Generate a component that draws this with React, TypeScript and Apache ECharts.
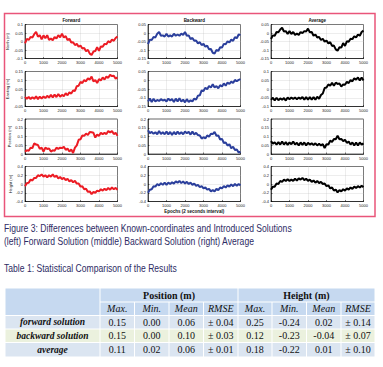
import React, { useEffect, useRef } from "react";
import * as echarts from "echarts";

// ---------- data ----------
const EPOCHS = [0, 100, 200, 300, 400, 500, 600, 700, 800, 900, 1000, 1100, 1200, 1300, 1400, 1500, 1600, 1700, 1800, 1900, 2000, 2100, 2200, 2300, 2400, 2500, 2600, 2700, 2800, 2900, 3000, 3100, 3200, 3300, 3400, 3500, 3600, 3700, 3800, 3900, 4000, 4100, 4200, 4300, 4400, 4500, 4600, 4700, 4800, 4900, 5000];

const FORWARD_NORTH = [-0.011, 0.016, 0.009, 0.027, 0.024, 0.043, 0.056, 0.029, 0.037, 0.013, 0.036, 0.019, 0.037, 0.009, 0.017, 0.008, 0.027, 0.018, 0.037, 0.024, 0.046, 0.023, 0.032, 0.008, 0.016, -0.006, -0.004, -0.021, -0.014, -0.031, -0.024, -0.041, -0.038, -0.057, -0.049, -0.071, -0.079, -0.059, -0.056, -0.034, -0.055, -0.029, -0.031, -0.014, -0.016, 0.002, -0.006, 0.012, 0.004, 0.021, 0.03];
const FORWARD_EAST = [0.005, -0.006, 0.004, -0.007, 0.003, -0.006, 0.008, -0.008, 0.006, -0.004, 0.007, -0.002, 0.011, 0.001, 0.016, 0.002, 0.018, 0.004, 0.021, 0.006, 0.016, 0.009, 0.026, 0.014, 0.031, 0.024, 0.041, 0.039, 0.066, 0.069, 0.091, 0.084, 0.101, 0.094, 0.111, 0.104, 0.121, 0.094, 0.101, 0.084, 0.106, 0.099, 0.116, 0.104, 0.121, 0.114, 0.131, 0.124, 0.126, 0.109, 0.116];
const FORWARD_POSITION = [0.014, 0.021, 0.019, 0.036, 0.034, 0.061, 0.054, 0.051, 0.029, 0.036, 0.014, 0.036, 0.029, 0.031, 0.014, 0.021, 0.019, 0.036, 0.029, 0.036, 0.034, 0.041, 0.024, 0.031, 0.014, 0.026, 0.006, 0.036, 0.049, 0.081, 0.084, 0.106, 0.104, 0.116, 0.109, 0.126, 0.124, 0.121, 0.094, 0.111, 0.104, 0.121, 0.114, 0.121, 0.114, 0.131, 0.124, 0.131, 0.114, 0.121, 0.104];
const FORWARD_HEIGHT = [-0.05, 0.02, 0.03, 0.1, 0.08, 0.14, 0.14, 0.2, 0.18, 0.22, 0.17, 0.2, 0.15, 0.2, 0.17, 0.22, 0.16, 0.19, 0.13, 0.16, 0.11, 0.14, 0.09, 0.12, 0.06, 0.09, 0.04, 0.07, 0.01, 0.01, -0.06, -0.05, -0.12, -0.11, -0.18, -0.17, -0.23, -0.18, -0.2, -0.15, -0.17, -0.12, -0.15, -0.11, -0.14, -0.09, -0.13, -0.08, -0.12, -0.09, -0.13];

const BACKWARD_NORTH = [-0.066, -0.039, -0.041, -0.024, -0.026, -0.004, 0.006, -0.016, -0.014, -0.021, -0.004, -0.021, -0.014, -0.021, -0.004, -0.016, -0.009, -0.016, -0.004, -0.011, 0.006, -0.016, -0.014, -0.036, -0.029, -0.046, -0.044, -0.061, -0.054, -0.071, -0.064, -0.081, -0.074, -0.096, -0.094, -0.116, -0.121, -0.099, -0.106, -0.084, -0.086, -0.064, -0.066, -0.049, -0.056, -0.039, -0.046, -0.024, -0.031, -0.009, -0.011];
const BACKWARD_EAST = [-0.121, -0.104, -0.124, -0.106, -0.121, -0.113, -0.118, -0.108, -0.116, -0.111, -0.121, -0.105, -0.116, -0.108, -0.124, -0.105, -0.121, -0.103, -0.121, -0.111, -0.126, -0.108, -0.124, -0.115, -0.121, -0.105, -0.111, -0.088, -0.086, -0.058, -0.061, -0.043, -0.051, -0.033, -0.041, -0.023, -0.041, -0.033, -0.046, -0.028, -0.036, -0.018, -0.031, -0.013, -0.021, -0.008, -0.016, 0.002, -0.006, 0.002, 0.006];
const BACKWARD_POSITION = [0.136, 0.119, 0.126, 0.116, 0.124, 0.113, 0.131, 0.114, 0.124, 0.113, 0.128, 0.112, 0.126, 0.109, 0.126, 0.112, 0.128, 0.114, 0.124, 0.113, 0.128, 0.119, 0.126, 0.111, 0.128, 0.112, 0.121, 0.108, 0.106, 0.088, 0.096, 0.089, 0.106, 0.099, 0.116, 0.114, 0.126, 0.104, 0.106, 0.083, 0.086, 0.063, 0.066, 0.048, 0.056, 0.033, 0.041, 0.023, 0.026, 0.008, 0.014];
const BACKWARD_HEIGHT = [-0.2, -0.13, -0.12, -0.05, -0.06, 0.0, -0.03, 0.02, -0.02, 0.03, -0.02, 0.03, 0.0, 0.04, 0.01, 0.06, 0.03, 0.07, 0.02, 0.06, 0.01, 0.05, 0.0, 0.03, -0.02, 0.01, -0.04, -0.02, -0.07, -0.05, -0.1, -0.08, -0.13, -0.11, -0.17, -0.14, -0.17, -0.11, -0.14, -0.08, -0.1, -0.05, -0.08, -0.03, -0.06, -0.01, -0.05, 0.0, -0.04, 0.0, -0.03];

const AVERAGE_NORTH = [-0.035, -0.014, -0.016, 0.006, 0.004, 0.021, 0.031, 0.009, 0.011, -0.006, 0.011, -0.006, 0.006, -0.011, -0.004, -0.011, 0.006, -0.001, 0.011, 0.009, 0.026, 0.004, 0.006, -0.016, -0.009, -0.026, -0.024, -0.041, -0.034, -0.051, -0.044, -0.061, -0.054, -0.076, -0.074, -0.096, -0.104, -0.084, -0.086, -0.059, -0.076, -0.049, -0.051, -0.034, -0.036, -0.019, -0.026, -0.009, -0.016, 0.006, 0.014];
const AVERAGE_EAST = [-0.062, -0.05, -0.066, -0.05, -0.064, -0.054, -0.061, -0.052, -0.066, -0.049, -0.058, -0.049, -0.056, -0.049, -0.058, -0.049, -0.056, -0.046, -0.061, -0.046, -0.061, -0.047, -0.061, -0.046, -0.061, -0.044, -0.056, -0.034, -0.026, 0.006, 0.009, 0.026, 0.019, 0.036, 0.019, 0.036, 0.029, 0.031, 0.014, 0.026, 0.024, 0.041, 0.034, 0.051, 0.044, 0.061, 0.054, 0.066, 0.049, 0.066, 0.049];
const AVERAGE_POSITION = [0.074, 0.059, 0.066, 0.054, 0.068, 0.054, 0.071, 0.054, 0.068, 0.052, 0.066, 0.056, 0.071, 0.054, 0.064, 0.049, 0.066, 0.052, 0.066, 0.049, 0.064, 0.054, 0.061, 0.052, 0.061, 0.049, 0.058, 0.049, 0.056, 0.034, 0.056, 0.054, 0.076, 0.069, 0.086, 0.084, 0.104, 0.084, 0.086, 0.074, 0.081, 0.064, 0.071, 0.054, 0.066, 0.049, 0.066, 0.049, 0.066, 0.054, 0.061];
const AVERAGE_HEIGHT = [-0.13, -0.06, -0.06, 0.01, 0.0, 0.07, 0.05, 0.1, 0.07, 0.11, 0.07, 0.1, 0.07, 0.12, 0.08, 0.13, 0.1, 0.14, 0.09, 0.12, 0.07, 0.1, 0.05, 0.08, 0.03, 0.07, 0.02, 0.05, 0.0, 0.01, -0.05, -0.03, -0.1, -0.08, -0.15, -0.13, -0.19, -0.14, -0.17, -0.12, -0.15, -0.1, -0.13, -0.08, -0.11, -0.06, -0.09, -0.05, -0.08, -0.04, -0.07];

const SOLUTIONS = ["Forward", "Backward", "Average"];
const COMPONENTS = ["North (m)", "Easting (m)", "Position (m)", "Height (m)"];
const X_TICKS = [0, 1000, 2000, 3000, 4000, 5000];

// y-axis [min, max, interval] per solution / component
const Y_SCALES = [
  [[-0.1, 0.1, 0.05], [-0.05, 0.15, 0.05], [0, 0.2, 0.05], [-0.4, 0.4, 0.2]],
  [[-0.15, 0.05, 0.05], [-0.15, 0.05, 0.05], [0, 0.2, 0.05], [-0.4, 0.4, 0.2]],
  [[-0.15, 0.05, 0.05], [-0.1, 0.1, 0.05], [0, 0.2, 0.05], [-0.4, 0.4, 0.2]],
];

const SERIES_DATA = [
  [FORWARD_NORTH, FORWARD_EAST, FORWARD_POSITION, FORWARD_HEIGHT],
  [BACKWARD_NORTH, BACKWARD_EAST, BACKWARD_POSITION, BACKWARD_HEIGHT],
  [AVERAGE_NORTH, AVERAGE_EAST, AVERAGE_POSITION, AVERAGE_HEIGHT],
];

// table
const TABLE_ROWS = ["forward solution", "backward solution", "average"];
const STAT_HEADERS = ["Max.", "Min.", "Mean", "RMSE"];
const POS_MAX = [0.15, 0.15, 0.11];
const POS_MIN = [0.0, 0.0, 0.02];
const POS_MEAN = [0.06, 0.1, 0.06];
const POS_RMSE = [0.04, 0.03, 0.01];
const HGT_MAX = [0.25, 0.12, 0.18];
const HGT_MIN = [-0.24, -0.23, -0.22];
const HGT_MEAN = [0.02, -0.04, 0.01];
const HGT_RMSE = [0.14, 0.07, 0.1];

// ---------- layout ----------
const COL_LEFT = [25, 148, 271];
const COL_W = 92.5;
const ROW_TOP = [24.5, 71.5, 119, 166.5];
const ROW_H = [34, 35, 35, 35];
const LINE_COLORS = ["#ec1c24", "#2b3f9c", "#000000"];

const fmt = (v: number) => String(parseFloat(v.toFixed(2)));

function buildOption() {
  const grid: any[] = [];
  const xAxis: any[] = [];
  const yAxis: any[] = [];
  const series: any[] = [];
  let idx = 0;
  for (let c = 0; c < 3; c++) {
    for (let r = 0; r < 4; r++) {
      grid.push({
        left: COL_LEFT[c],
        top: ROW_TOP[r],
        width: COL_W,
        height: ROW_H[r],
        show: true,
        borderColor: "#000",
        borderWidth: 0.6,
        backgroundColor: "#fff",
      });
      const isEpochAxis = c === 1 && r === 3;
      xAxis.push({
        type: "value",
        gridIndex: idx,
        min: 0,
        max: 5000,
        interval: 1000,
        axisLine: { show: true, onZero: false, lineStyle: { color: "#000", width: 0.6 } },
        axisTick: { show: true, inside: true, length: 1.5, lineStyle: { color: "#000", width: 0.5 } },
        axisLabel: { fontSize: 4, color: "#222", margin: 2, fontFamily: "Liberation Sans", showMinLabel: true, showMaxLabel: true, formatter: (v: number) => (X_TICKS.includes(v) ? String(v) : "") },
        splitLine: { show: true, lineStyle: { type: "dotted", color: "#b5b5b5", width: 0.5 } },
        name: isEpochAxis ? "Epochs (2 seconds interval)" : "",
        nameLocation: "middle",
        nameGap: 7,
        nameTextStyle: { fontSize: 4.5, fontWeight: "bold", color: "#111", fontFamily: "Liberation Sans" },
      });
      const [mn, mx, iv] = Y_SCALES[c][r];
      yAxis.push({
        type: "value",
        gridIndex: idx,
        min: mn,
        max: mx,
        interval: iv,
        axisLine: { show: true, onZero: false, lineStyle: { color: "#000", width: 0.6 } },
        axisTick: { show: true, inside: true, length: 1.5, lineStyle: { color: "#000", width: 0.5 } },
        axisLabel: { fontSize: 4, color: "#222", margin: 2, fontFamily: "Liberation Sans", formatter: (v: number) => fmt(v) },
        splitLine: { show: true, lineStyle: { type: "dotted", color: "#b5b5b5", width: 0.5 } },
        name: c === 0 ? COMPONENTS[r] : "",
        nameLocation: "middle",
        nameRotate: 90,
        nameGap: 10,
        nameTextStyle: { fontSize: 4, color: "#111", fontFamily: "Liberation Sans" },
      });
      const arr = SERIES_DATA[c][r];
      series.push({
        type: "line",
        xAxisIndex: idx,
        yAxisIndex: idx,
        data: EPOCHS.map((e, i) => [e, arr[i]]),
        showSymbol: false,
        symbol: "none",
        lineStyle: { color: LINE_COLORS[c], width: 2 },
        silent: true,
      });
      idx++;
    }
  }

  const graphic: any[] = [];
  // figure border
  graphic.push({
    type: "rect",
    shape: { x: 4.5, y: 13.5, width: 370.5, height: 203 },
    style: { fill: "none", stroke: "#e9557a", lineWidth: 1.5 },
    z: 100,
  });
  // column titles
  SOLUTIONS.forEach((s, c) => {
    graphic.push({
      type: "text",
      x: COL_LEFT[c] + COL_W / 2,
      y: 20,
      style: { text: s, fontSize: 4.5, fontWeight: "bold", fill: "#111", fontFamily: "Liberation Sans", align: "center", verticalAlign: "middle", textAlign: "center", textVerticalAlign: "middle" },
    });
  });
  // captions
  const capStyle = { fontSize: 10, fill: "#2d2b64", fontFamily: "Liberation Sans", align: "left", verticalAlign: "middle", textAlign: "left", textVerticalAlign: "middle" };
  graphic.push({ type: "text", x: 4, y: 228.5, scaleX: 0.86, style: { ...capStyle, text: "Figure 3: Differences between Known-coordinates and Introduced Solutions" } });
  graphic.push({ type: "text", x: 4, y: 242, scaleX: 0.86, style: { ...capStyle, text: "(left) Forward Solution (middle) Backward Solution (right) Average" } });
  graphic.push({ type: "text", x: 4, y: 269, scaleX: 0.86, style: { ...capStyle, text: "Table 1: Statistical Comparison of the Results" } });

  // table
  const colX = [5, 100, 134.5, 169, 203.5, 238, 272, 306.5, 341, 375];
  const rowY = [288, 302, 315.5, 329, 342.5, 357];
  const HEADER_BG = "#c6d9f0";
  const ROW_BG = ["#dbe5f1", "#ebf1de", "#dbe5f1"];
  const cell = (x0: number, x1: number, y0: number, y1: number, fill: string) => ({
    type: "rect",
    shape: { x: x0 + 0.5, y: y0 + 0.5, width: x1 - x0 - 1, height: y1 - y0 - 1 },
    style: { fill, stroke: "none" },
  });
  const txt = (x: number, y: number, text: string, extra: any) => ({
    type: "text",
    x,
    y,
    z: 10,
    style: { text, fontSize: 10, fill: "#111", fontFamily: "Liberation Serif", align: "center", verticalAlign: "middle", textAlign: "center", textVerticalAlign: "middle", ...extra },
  });
  graphic.push(cell(colX[0], colX[1], rowY[0], rowY[2], HEADER_BG));
  graphic.push(cell(colX[1], colX[5], rowY[0], rowY[1], HEADER_BG));
  graphic.push(cell(colX[5], colX[9], rowY[0], rowY[1], HEADER_BG));
  for (let k = 1; k < 9; k++) graphic.push(cell(colX[k], colX[k + 1], rowY[1], rowY[2], HEADER_BG));
  for (let r = 0; r < 3; r++) {
    for (let k = 0; k < 9; k++) graphic.push(cell(colX[k], colX[k + 1], rowY[r + 2], rowY[r + 3], ROW_BG[r]));
  }
  graphic.push(txt((colX[1] + colX[5]) / 2, (rowY[0] + rowY[1]) / 2, "Position (m)", { fontWeight: "bold" }));
  graphic.push(txt((colX[5] + colX[9]) / 2, (rowY[0] + rowY[1]) / 2, "Height (m)", { fontWeight: "bold" }));
  for (let k = 0; k < 8; k++) {
    graphic.push(txt((colX[k + 1] + colX[k + 2]) / 2, (rowY[1] + rowY[2]) / 2, STAT_HEADERS[k % 4], { fontStyle: "italic" }));
  }
  const cols = [POS_MAX, POS_MIN, POS_MEAN, POS_RMSE, HGT_MAX, HGT_MIN, HGT_MEAN, HGT_RMSE];
  for (let r = 0; r < 3; r++) {
    const yc = (rowY[r + 2] + rowY[r + 3]) / 2;
    graphic.push(txt((colX[0] + colX[1]) / 2, yc, TABLE_ROWS[r], { fontWeight: "bold", fontStyle: "italic", fontSize: 9.5 }));
    cols.forEach((arr, k) => {
      const isRmse = k % 4 === 3;
      const t = (isRmse ? "± " : "") + arr[r].toFixed(2);
      graphic.push(txt((colX[k + 1] + colX[k + 2]) / 2, yc, t, {}));
    });
  }

  return {
    animation: false,
    backgroundColor: "#ffffff",
    grid,
    xAxis,
    yAxis,
    series,
    graphic,
  };
}

export default function App() {
  const ref = useRef<HTMLDivElement>(null);
  useEffect(() => {
    if (!ref.current) return;
    const chart = echarts.init(ref.current, undefined, { renderer: "svg" });
    chart.setOption(buildOption() as any);
    return () => chart.dispose();
  }, []);
  return <div ref={ref} style={{ position: "fixed", left: 0, top: 0, width: 383, height: 367 }} />;
}
